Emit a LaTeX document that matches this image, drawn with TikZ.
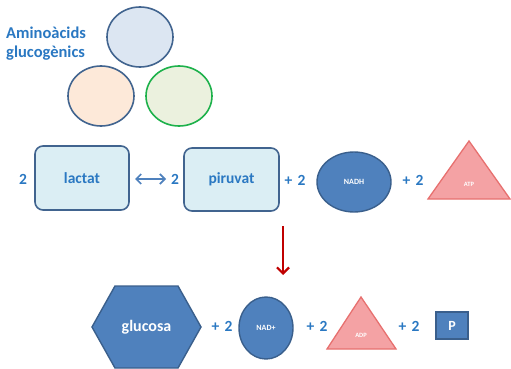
\documentclass[tikz,border=0pt]{standalone}
\usepackage{fontspec}
\setmainfont{Carlito}
\usetikzlibrary{shapes.geometric,arrows.meta}
\definecolor{txtblue}{HTML}{2A78C2}
\definecolor{boxfill}{HTML}{DBEEF4}
\definecolor{darkline}{HTML}{41648F}
\definecolor{medblue}{HTML}{4F81BD}
\definecolor{medline}{HTML}{3A5F8C}
\definecolor{pinkfill}{HTML}{F4A2A4}
\definecolor{pinkline}{HTML}{E7706F}
\definecolor{ellblue}{HTML}{DCE6F2}
\definecolor{ellpeach}{HTML}{FDE9D9}
\definecolor{ellgreen}{HTML}{EBF1DE}
\definecolor{greenline}{HTML}{1DB14B}
\definecolor{arrowred}{HTML}{C00000}
\tikzset{
  lbl/.style={text=txtblue, font=\fontsize{15.5}{18}\selectfont\bfseries, inner sep=0pt},
  rbox/.style={draw=darkline, line width=1.6pt, fill=boxfill, rounded corners=8pt, inner sep=0pt, text=txtblue, font=\fontsize{15.5}{18}\selectfont\bfseries},
  bluecirc/.style={ellipse, draw=medline, line width=1.4pt, fill=medblue, inner sep=0pt, text=white, font=\fontsize{8}{9}\selectfont\bfseries},
  tri/.style={draw=pinkline, line width=1.3pt, fill=pinkfill, line join=miter},
  amino/.style={ellipse, line width=1.6pt, inner sep=0pt, minimum width=66pt, minimum height=60pt},
}
\begin{document}
\begin{tikzpicture}[x=1pt,y=-1pt]
\useasboundingbox (0,0) rectangle (511,369);
% title
\node[lbl, align=left, anchor=west, font=\fontsize{16.5}{19}\selectfont\bfseries] (title) at (6,44) {Aminoàcids\\glucogènics};
% ellipses
\node[amino, draw=darkline, fill=ellblue] (e1) at (140,37) {};
\node[amino, draw=darkline, fill=ellpeach] (e2) at (101,96) {};
\node[amino, draw=greenline, fill=ellgreen] (e3) at (179,96) {};
% top row
\node[lbl] (n1) at (23,179) {2};
\node[rbox, minimum width=94pt, minimum height=64pt] (lact) at (82,178) {lactat};
\node[lbl] (n2) at (175,179) {2};
\node[rbox, minimum width=95pt, minimum height=63pt] (piru) at (231.5,179.5) {piruvat};
\coordinate (la) at (135,179);
\coordinate (pa) at (166,179);
\draw[medblue, line width=1.7pt, {Straight Barb[length=5pt,width=10pt]}-{Straight Barb[length=5pt,width=10pt]}] (la) -- (pa);
\node[lbl] (p1) at (295,180) {+\,\,2};
\node[bluecirc, minimum width=74pt, minimum height=60pt] (nadh) at (354,182) {NADH};
\node[lbl] (p2) at (413,180) {+\,\,2};
\coordinate (atpA) at (469,141);
\coordinate (atpL) at (428,199);
\coordinate (atpR) at (510,199);
\draw[tri] (atpA) -- (atpL) -- (atpR) -- cycle;
\node[text=white, font=\fontsize{6.5}{8}\selectfont\bfseries] (atp) at (469,184) {ATP};
% red arrow
\coordinate (ra) at (283,226);
\coordinate (rb) at (283,275);
\draw[arrowred, line width=2.2pt, -{Straight Barb[length=6pt,width=12pt]}] (ra) -- (rb);
% bottom row
\coordinate (h1) at (92,327);
\coordinate (h2) at (115,286);
\coordinate (h3) at (178,286);
\coordinate (h4) at (201,327);
\coordinate (h5) at (178,368);
\coordinate (h6) at (115,368);
\draw[draw=medline, line width=1.4pt, fill=medblue] (h1) -- (h2) -- (h3) -- (h4) -- (h5) -- (h6) -- cycle;
\node[text=white, font=\fontsize{16}{18}\selectfont\bfseries] (gluc) at (146.5,327) {glucosa};
\node[lbl] (p3) at (222,326) {+\,\,2};
\node[bluecirc, minimum width=54pt, minimum height=62pt] (nad) at (266,328) {NAD+};
\node[lbl] (p4) at (317,326) {+\,\,2};
\coordinate (adpA) at (361,297);
\coordinate (adpL) at (327,349);
\coordinate (adpR) at (396,349);
\draw[tri] (adpA) -- (adpL) -- (adpR) -- cycle;
\node[text=white, font=\fontsize{6.5}{8}\selectfont\bfseries] (adp) at (361,335) {ADP};
\node[lbl] (p5) at (409,326) {+\,\,2};
\node[draw=medline, line width=1.3pt, fill=medblue, minimum width=32pt, minimum height=27pt, inner sep=0pt, text=white, font=\fontsize{14}{16}\selectfont\bfseries] (pp) at (452,325.5) {P};
\end{tikzpicture}
\end{document}
